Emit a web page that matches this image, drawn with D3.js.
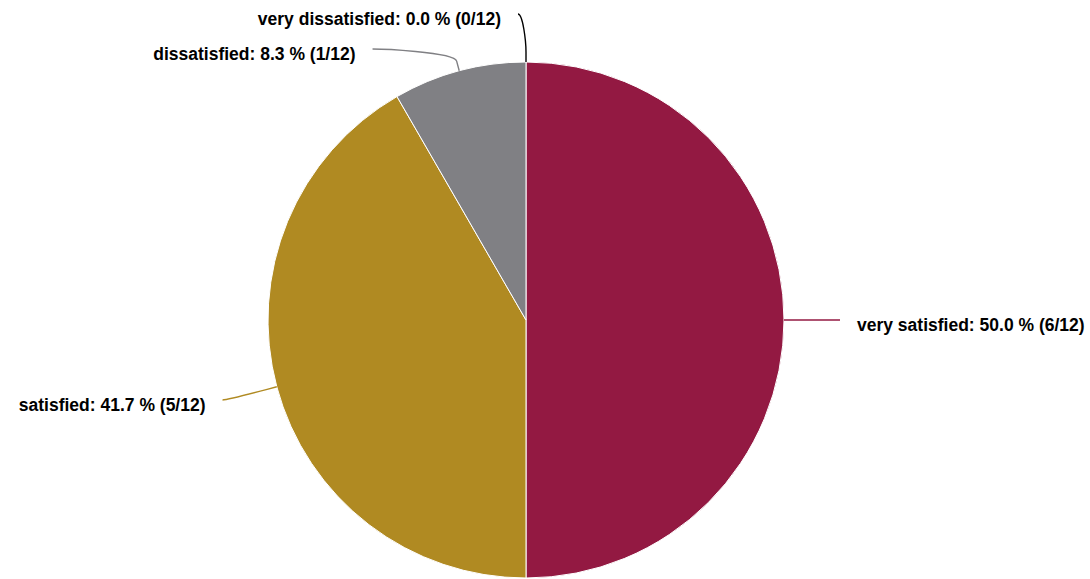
<!DOCTYPE html>
<html>
<head>
<meta charset="utf-8">
<script src="https://cdn.jsdelivr.net/npm/d3@7"></script>
<style>
  html, body { margin: 0; padding: 0; background: #ffffff; }
  svg { display: block; }
  text { font-family: "Liberation Sans", Arial, Helvetica, sans-serif; font-weight: bold; fill: #000; }
</style>
</head>
<body>
<script>
// ---- data ----
const categories = ["very satisfied", "satisfied", "dissatisfied", "very dissatisfied"];
const counts = [6, 5, 1, 0];
const colors = ["#931942", "#b08a22", "#808084", "#000000"];

// ---- layout ----
const W = 1090, H = 579;
const cx = 526, cy = 320, r = 258;
const labelDist = 51, breakDist = 10, pad = 5, spacing = 35, topLimit = 14;
const total = d3.sum(counts);

const svg = d3.select("body").append("svg").attr("width", W).attr("height", H);

const data = categories.map((c, i) => ({ name: c, value: counts[i], color: colors[i] }));
const pie = d3.pie().sort(null).value(d => d.value).startAngle(0).endAngle(2 * Math.PI);
const arcs = pie(data);
const arc = d3.arc().innerRadius(0).outerRadius(r);

const g = svg.append("g").attr("transform", `translate(${cx},${cy})`);
g.selectAll("path.slice")
  .data(arcs.filter(d => d.value > 0))
  .join("path")
  .attr("class", "slice")
  .attr("d", arc)
  .attr("fill", d => d.data.color)
  .attr("stroke", "#ffffff")
  .attr("stroke-width", 1)
  .attr("stroke-linejoin", "round");

// label positions (Highcharts-like)
const R = r + labelDist;
const labels = arcs.map(d => {
  const a = (d.startAngle + d.endAngle) / 2;
  const left = a >= Math.PI - 1e-9;
  const natY = cy - R * Math.cos(a);
  const natX = cx + R * Math.sin(a);
  return {
    d, a, left,
    natX, natY,
    y: Math.max(natY, topLimit),
    moved: false,
    clamped: natY < topLimit,
    touch: [cx + r * Math.sin(a), cy - r * Math.cos(a)],
    brk: [cx + (r + breakDist) * Math.sin(a), cy - (r + breakDist) * Math.cos(a)]
  };
});
[true, false].forEach(side => {
  const ls = labels.filter(l => l.left === side).sort((p, q) => p.y - q.y);
  for (let i = 1; i < ls.length; i++) {
    if (ls[i].y < ls[i - 1].y + spacing) { ls[i].y = ls[i - 1].y + spacing; ls[i].moved = true; }
  }
});
labels.forEach(l => {
  const s = l.left ? -1 : 1;
  if (l.moved) {
    const ang = Math.asin(Math.max(-1, Math.min(1, (l.y - cy) / R)));
    l.x = cx + s * (Math.cos(ang) * R + pad);
  } else {
    l.x = l.natX + s * (pad + (l.clamped ? 3 : 0));
  }
});

const lg = svg.append("g");
lg.selectAll("path.conn")
  .data(labels)
  .join("path")
  .attr("class", "conn")
  .attr("fill", "none")
  .attr("stroke", l => l.d.data.color)
  .attr("stroke-width", 1.4)
  .attr("d", l => {
    const p = d3.path();
    p.moveTo(l.x, l.y);
    p.bezierCurveTo(l.x + (l.left ? 5 : -5), l.y,
      2 * l.brk[0] - l.touch[0], 2 * l.brk[1] - l.touch[1],
      l.brk[0], l.brk[1]);
    p.lineTo(l.touch[0], l.touch[1]);
    return p.toString();
  });

lg.selectAll("text.lbl")
  .data(labels)
  .join("text")
  .attr("class", "lbl")
  .attr("x", l => l.x + (l.left ? -17 : 17))
  .attr("y", l => l.y + 11)
  .attr("text-anchor", l => l.left ? "end" : "start")
  .style("font-size", "17.5px")
  .text(l => `${l.d.data.name}: ${(l.d.value / total * 100).toFixed(1)} % (${l.d.value}/${total})`);
</script>
</body>
</html>
